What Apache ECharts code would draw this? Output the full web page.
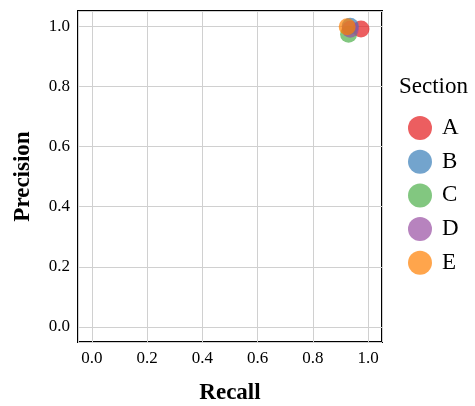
<!DOCTYPE html>
<html>
<head>
<meta charset="utf-8">
<script src="https://cdn.jsdelivr.net/npm/echarts@6/dist/echarts.min.js"></script>
<style>
  html, body { margin: 0; padding: 0; background: #fff; }
  #chart { width: 475px; height: 406px; }
</style>
</head>
<body>
<div id="chart"></div>
<script>
// Per-section retrieval scores
const sections = ['A', 'B', 'C', 'D', 'E'];
const recall = [0.974, 0.935, 0.929, 0.935, 0.924];
const precision = [0.990, 0.999, 0.973, 0.989, 0.998];
const tickValues = [0.0, 0.2, 0.4, 0.6, 0.8, 1.0];

const palette = ['#e41a1c', '#377eb8', '#4daf4a', '#984ea3', '#ff7f00'];
const FONT = '"Liberation Serif", "DejaVu Serif", serif';

const series = sections.map((name, i) => ({
  name: name,
  type: 'scatter',
  symbol: 'circle',
  symbolSize: 17,
  itemStyle: { color: palette[i], opacity: 0.7 },
  data: [[recall[i], precision[i]]]
}));

function axis(name, gap) {
  return {
    type: 'value',
    min: -0.05,
    max: 1.05,
    name: name,
    nameLocation: 'middle',
    nameGap: gap,
    nameTextStyle: { fontFamily: FONT, fontSize: 23, fontWeight: 'bold', color: '#000' },
    axisLine: { show: false },
    axisTick: { show: false },
    axisLabel: {
      fontFamily: FONT, fontSize: 17, color: '#000', margin: 8,
      customValues: tickValues,
      formatter: v => v.toFixed(1)
    },
    splitLine: { show: true, lineStyle: { color: '#d0d0d0', width: 1 }, customValues: tickValues },
    axisPointer: { show: false }
  };
}

const chart = echarts.init(document.getElementById('chart'), null, { renderer: 'canvas' });
chart.setOption({
  animation: false,
  backgroundColor: '#fff',
  grid: {
    left: 78, right: 93, top: 11, bottom: 64,
    outerBoundsMode: 'none',
    show: true, borderColor: '#000', borderWidth: 2, backgroundColor: 'transparent'
  },
  title: {
    text: 'Section',
    left: 399, top: 75,
    padding: 0,
    textStyle: { fontFamily: FONT, fontSize: 23, fontWeight: 'normal', color: '#000' }
  },
  legend: {
    data: sections,
    orient: 'vertical',
    left: 408, top: 116,
    padding: 0,
    icon: 'circle',
    itemWidth: 24, itemHeight: 24, itemGap: 9.7,
    textStyle: { fontFamily: FONT, fontSize: 23, color: '#000', padding: [0, 0, 0, 5] }
  },
  xAxis: axis('Recall', 40),
  yAxis: axis('Precision', 43),
  series: series
});
</script>
</body>
</html>
